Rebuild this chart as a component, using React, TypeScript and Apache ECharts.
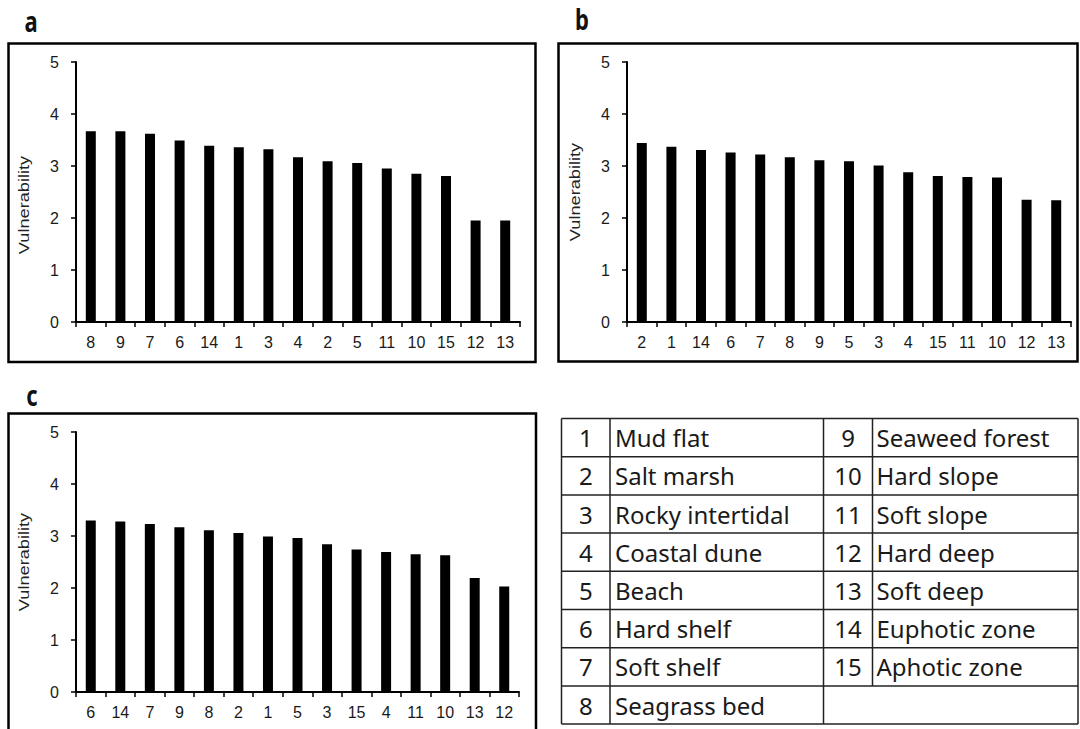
import React, { useEffect, useRef } from "react";
import * as echarts from "echarts";

// ---- Data ----
const catsA = ["8", "9", "7", "6", "14", "1", "3", "4", "2", "5", "11", "10", "15", "12", "13"];
const valsA = [3.67, 3.67, 3.62, 3.49, 3.39, 3.36, 3.32, 3.17, 3.09, 3.06, 2.95, 2.85, 2.81, 1.95, 1.95];

const catsB = ["2", "1", "14", "6", "7", "8", "9", "5", "3", "4", "15", "11", "10", "12", "13"];
const valsB = [3.44, 3.37, 3.31, 3.26, 3.22, 3.17, 3.11, 3.09, 3.01, 2.88, 2.81, 2.79, 2.78, 2.35, 2.34];

const catsC = ["6", "14", "7", "9", "8", "2", "1", "5", "3", "15", "4", "11", "10", "13", "12"];
const valsC = [3.3, 3.28, 3.23, 3.17, 3.11, 3.06, 2.99, 2.96, 2.84, 2.74, 2.69, 2.65, 2.63, 2.19, 2.03];

const yTicks = [0, 1, 2, 3, 4, 5];
const yAxisTitle = "Vulnerability";
const panelLetters = ["a", "b", "c"];

const habitatIds = ["1", "2", "3", "4", "5", "6", "7", "8", "9", "10", "11", "12", "13", "14", "15"];
const habitatNames = [
  "Mud flat",
  "Salt marsh",
  "Rocky intertidal",
  "Coastal dune",
  "Beach",
  "Hard shelf",
  "Soft shelf",
  "Seagrass bed",
  "Seaweed forest",
  "Hard slope",
  "Soft slope",
  "Hard deep",
  "Soft deep",
  "Euphotic zone",
  "Aphotic zone",
];

// ---- Layout ----
const AXIS_FONT = "Liberation Sans, Arial, sans-serif";
const TABLE_FONT = "Noto Sans, sans-serif";

const grids = [
  { left: 76, top: 62, width: 444, height: 260 },
  { left: 627, top: 62, width: 444, height: 260 },
  { left: 76, top: 432, width: 443, height: 260 },
];
const frames = [
  { x: 8.5, y: 43.5, w: 527, h: 318.5 },
  { x: 558.5, y: 43.5, w: 519, h: 318 },
  { x: 8.5, y: 413.5, w: 527.5, h: 330 },
];
const letterPos = [
  { x: 31, y: 21 },
  { x: 582, y: 19 },
  { x: 32, y: 395 },
];
const titlePos = [
  { x: 24, y: 205 },
  { x: 575, y: 192 },
  { x: 24, y: 562 },
];

const tableX = [561.5, 610, 823.5, 872.5, 1078];
const tableTop = 418.5;
const rowH = 38.2;
const nRows = 8;

export default function App() {
  const ref = useRef<HTMLDivElement>(null);

  useEffect(() => {
    if (!ref.current) return;
    const chart = echarts.init(ref.current, null, { renderer: "svg" });

    const catSets = [catsA, catsB, catsC];
    const valSets = [valsA, valsB, valsC];

    const xAxes = catSets.map((cats, i) => ({
      type: "category",
      gridIndex: i,
      data: cats,
      boundaryGap: true,
      axisLine: { show: true, lineStyle: { color: "#000", width: 2 } },
      axisTick: { show: true, inside: false, length: 5, lineStyle: { color: "#000", width: 1.5 } },
      axisLabel: { color: "#1a1a1a", fontSize: 16, fontFamily: AXIS_FONT, margin: 12, interval: 0 },
      splitLine: { show: false },
    }));

    const yAxes = catSets.map((_, i) => ({
      type: "value",
      gridIndex: i,
      min: yTicks[0],
      max: yTicks[yTicks.length - 1],
      interval: 1,
      axisLine: { show: true, lineStyle: { color: "#000", width: 2 } },
      axisTick: { show: true, inside: false, length: 5, lineStyle: { color: "#000", width: 1.5 } },
      axisLabel: { color: "#1a1a1a", fontSize: 16, fontFamily: AXIS_FONT, margin: 17 },
      splitLine: { show: false },
    }));

    const series = valSets.map((vals, i) => ({
      type: "bar",
      xAxisIndex: i,
      yAxisIndex: i,
      data: vals,
      barWidth: 10,
      itemStyle: { color: "#000" },
      silent: true,
    }));

    const graphics: any[] = [];
    frames.forEach((f) => {
      graphics.push({
        type: "rect",
        shape: { x: f.x, y: f.y, width: f.w, height: f.h },
        style: { fill: "none", stroke: "#000", lineWidth: 2.5 },
        z: 10,
      });
    });
    panelLetters.forEach((t, i) => {
      graphics.push({
        type: "text",
        x: letterPos[i].x,
        y: letterPos[i].y,
        scaleY: 1.3,
        style: {
          text: t,
          fontSize: 22,
          fontWeight: "bold",
          fontFamily: TABLE_FONT,
          fill: "#111",
          align: "center",
          verticalAlign: "middle",
        },
      });
    });
    titlePos.forEach((p) => {
      graphics.push({
        type: "text",
        x: p.x,
        y: p.y,
        rotation: Math.PI / 2,
        scaleX: 1.3,
        style: {
          text: yAxisTitle,
          fontSize: 14,
          fontFamily: AXIS_FONT,
          fill: "#222",
          align: "center",
          verticalAlign: "middle",
        },
      });
    });

    // Table
    const tableBottom = tableTop + nRows * rowH;
    for (let r = 0; r <= nRows; r++) {
      const y = tableTop + r * rowH;
      graphics.push({
        type: "line",
        shape: { x1: tableX[0], y1: y, x2: tableX[4], y2: y },
        style: { stroke: "#222", lineWidth: 1.5 },
      });
    }
    [0, 1, 2, 4].forEach((k) => {
      graphics.push({
        type: "line",
        shape: { x1: tableX[k], y1: tableTop, x2: tableX[k], y2: tableBottom },
        style: { stroke: "#222", lineWidth: 1.5 },
      });
    });
    graphics.push({
      type: "line",
      shape: { x1: tableX[3], y1: tableTop, x2: tableX[3], y2: tableTop + (nRows - 1) * rowH },
      style: { stroke: "#222", lineWidth: 1.5 },
    });
    habitatIds.forEach((id, idx) => {
      const col = idx < nRows ? 0 : 1;
      const row = col === 0 ? idx : idx - nRows;
      const cy = tableTop + row * rowH + rowH / 2;
      const numX = col === 0 ? (tableX[0] + tableX[1]) / 2 : (tableX[2] + tableX[3]) / 2;
      const nameX = col === 0 ? tableX[1] + 5 : tableX[3] + 4;
      graphics.push({
        type: "text",
        x: numX,
        y: cy,
        style: {
          text: id,
          fontSize: 24,
          fontFamily: TABLE_FONT,
          fill: "#1a1a1a",
          align: "center",
          verticalAlign: "middle",
        },
      });
      graphics.push({
        type: "text",
        x: nameX,
        y: cy,
        style: {
          text: habitatNames[idx],
          fontSize: 24,
          fontFamily: TABLE_FONT,
          fill: "#1a1a1a",
          align: "left",
          verticalAlign: "middle",
        },
      });
    });

    chart.setOption({
      animation: false,
      backgroundColor: "#fff",
      grid: grids.map((g) => ({ ...g, containLabel: false })),
      xAxis: xAxes,
      yAxis: yAxes,
      series,
      graphic: graphics,
    });

    return () => chart.dispose();
  }, []);

  return (
    <div
      ref={ref}
      style={{ position: "absolute", left: 0, top: 0, width: 1080, height: 729, background: "#fff" }}
    />
  );
}
